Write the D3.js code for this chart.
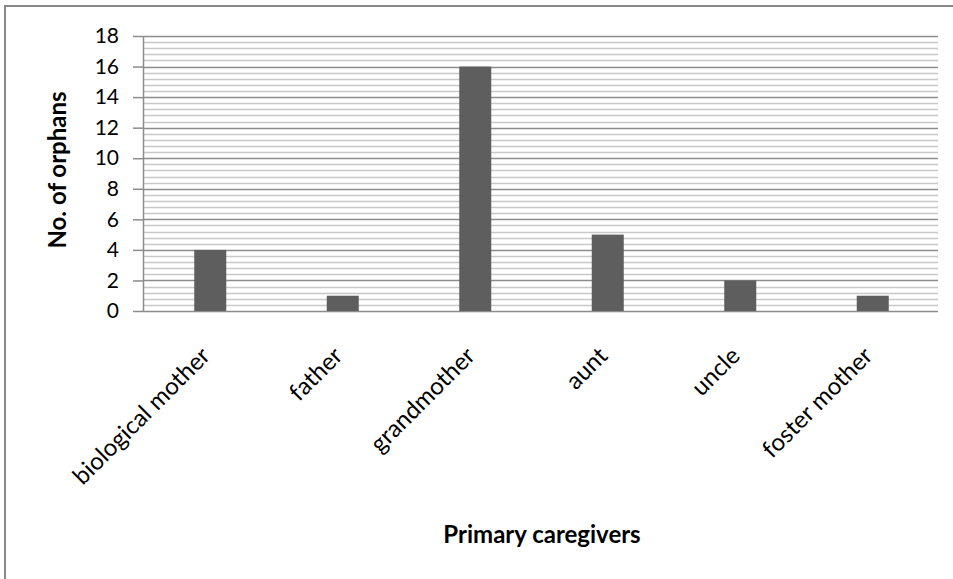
<!DOCTYPE html>
<html><head><meta charset="utf-8">
<script src="https://cdn.jsdelivr.net/npm/d3@7"></script>
<style>body{margin:0;background:#fff}svg{display:block}</style>
</head><body>
<script>
const categories = ["biological mother","father","grandmother","aunt","uncle","foster mother"];
const values = [4,1,16,5,2,1];
const yTicks = [0,2,4,6,8,10,12,14,16,18];
const yTitle = "No. of orphans";
const xTitle = "Primary caregivers";

const W = 953, H = 579;
const svg = d3.select("body").append("svg").attr("width", W).attr("height", H);
const font = "Lato, 'Open Sans', sans-serif";

// outer border
svg.append("rect").attr("x",5).attr("y",6).attr("width",W+10).attr("height",H+10)
  .attr("fill","none").attr("stroke","#888").attr("stroke-width",2);

const L = 143, R = 938, T = 36, B = 311;
const x = d3.scaleBand().domain(categories).range([L,R]).paddingInner(0).paddingOuter(0);
const y = d3.scaleLinear().domain([0,18]).range([B,T]);

// minor grid
const minor = d3.range(0, 18.0001, 0.4).filter(v => Math.abs(v/2 - Math.round(v/2)) > 1e-6);
svg.append("g").selectAll("line").data(minor).join("line")
  .attr("x1",L).attr("x2",R).attr("y1",d=>Math.round(y(d))+0.5).attr("y2",d=>Math.round(y(d))+0.5)
  .attr("stroke","#c8c8c8").attr("stroke-width",1.5);
// major grid
svg.append("g").selectAll("line").data(yTicks).join("line")
  .attr("x1",L).attr("x2",R).attr("y1",d=>Math.round(y(d))+0.5).attr("y2",d=>Math.round(y(d))+0.5)
  .attr("stroke","#8c8c8c").attr("stroke-width",1.5);

// bars
const bw = 32;
svg.append("g").selectAll("rect").data(values).join("rect")
  .attr("x",(d,i)=>x(categories[i])+x.bandwidth()/2-bw/2+1)
  .attr("width",bw)
  .attr("y",d=>y(d)).attr("height",d=>B-y(d))
  .attr("fill","#5e5e5e");

// y axis
const yAxis = d3.axisLeft(y).tickValues(yTicks).tickSize(10).tickPadding(14);
const gy = svg.append("g").attr("transform",`translate(${L},0)`).call(yAxis);
gy.select(".domain").attr("stroke","#8c8c8c").attr("stroke-width",1.5).attr("d",`M0.5,${T}V${B}`);
gy.selectAll(".tick line").attr("stroke","#8c8c8c").attr("stroke-width",1.5);
gy.selectAll(".tick text").attr("font-family",font).attr("font-size",21).attr("fill","#000");

// x axis labels
svg.append("g").selectAll("text").data(categories).join("text")
  .attr("transform",d=>`translate(${x(d)+x.bandwidth()/2-2},${B+42}) rotate(-45)`)
  .attr("text-anchor","end").attr("dominant-baseline","middle")
  .attr("font-family",font).attr("font-size",24).attr("fill","#000")
  .text(d=>d);

// titles
svg.append("text").attr("transform",`translate(66,170) rotate(-90)`)
  .attr("text-anchor","middle").attr("font-family",font).attr("font-weight","bold")
  .attr("font-size",24).text(yTitle);
svg.append("text").attr("x",542).attr("y",543).attr("text-anchor","middle")
  .attr("font-family",font).attr("font-weight","bold").attr("font-size",24).text(xTitle);
</script>
</body></html>
